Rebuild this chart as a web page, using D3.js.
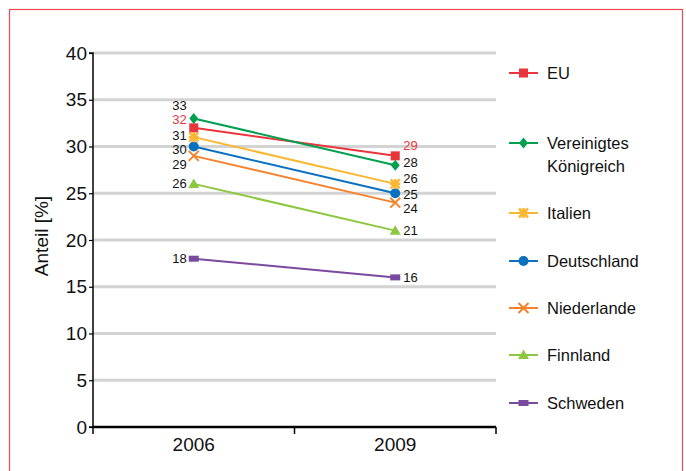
<!DOCTYPE html>
<html><head><meta charset="utf-8">
<script src="https://cdn.jsdelivr.net/npm/d3@7"></script>
<style>body{margin:0;background:#fff}svg{display:block}</style>
</head><body>
<svg id="c" width="686" height="471"></svg>
<script>
const years = ["2006", "2009"];
const seriesNames = ["EU", "Vereinigtes Königreich", "Italien", "Deutschland", "Niederlande", "Finnland", "Schweden"];
const legendLines = [["EU"], ["Vereinigtes", "Königreich"], ["Italien"], ["Deutschland"], ["Niederlande"], ["Finnland"], ["Schweden"]];
const v2006 = [32, 33, 31, 30, 29, 26, 18];
const v2009 = [29, 28, 26, 25, 24, 21, 16];
const colors = ["#e8363c", "#00a04f", "#fbb731", "#0a70bf", "#f5822a", "#8dc63f", "#7a4a9e"];
const symbols = ["square", "diamond", "asterisk", "circle", "cross", "triangle", "rect"];
const yTicks = [0, 5, 10, 15, 20, 25, 30, 35, 40];
// label vertical offsets (px) to avoid overlap
const off2006 = [-8, -13, -2, 3, 9, 0, 0];
const off2009 = [-10, -3, -5, 1, 6, 0, 0];

const svg = d3.select("#c");
svg.append("rect").attr("x", 9.5).attr("y", 9.5).attr("width", 673).attr("height", 480)
  .attr("fill", "none").attr("stroke", "#ee4a50").attr("stroke-width", 1.2);

const L = 93, R = 496, T = 53, B = 427;
const y = d3.scaleLinear().domain([0, 40]).range([B, T]);
const x = d3.scaleBand().domain(years).range([L, R]);
const cx = d => x(d) + x.bandwidth() / 2;

// grid
svg.append("g").selectAll("line").data(yTicks.filter(t => t > 0)).join("line")
  .attr("x1", L).attr("x2", R).attr("y1", d => y(d)).attr("y2", d => y(d))
  .attr("stroke", "#d3d3d3").attr("stroke-width", 3);

// y axis
const ya = svg.append("g").attr("transform", `translate(${L},0)`)
  .call(d3.axisLeft(y).tickValues(yTicks).tickSize(4).tickPadding(2));
ya.select(".domain").attr("stroke", "#000").attr("stroke-width", 1.5).attr("d", `M-4,${T}H0V${B}H-4`);
ya.selectAll(".tick line").attr("stroke", "#000").attr("stroke-width", 1.2);
ya.selectAll("text").attr("font-family", "Liberation Sans Narrow, Liberation Sans, Arial").attr("font-size", 19).attr("fill", "#111");

// x axis
const xa = svg.append("g").attr("transform", `translate(0,${B})`)
  .call(d3.axisBottom(x).tickSize(0).tickPadding(10));
xa.select(".domain").attr("stroke", "#000").attr("stroke-width", 2.5).attr("d", `M${L},0H${R}`);
xa.selectAll("text").attr("font-family", "Liberation Sans Narrow, Liberation Sans, Arial").attr("font-size", 19).attr("fill", "#111").attr("dy", "0.75em");
svg.append("g").selectAll("line").data([L, (L + R) / 2, R]).join("line")
  .attr("x1", d => d).attr("x2", d => d).attr("y1", B).attr("y2", B + 7)
  .attr("stroke", "#000").attr("stroke-width", 1.5);

// axis title
svg.append("text").attr("transform", `translate(48,${(T + B) / 2 - 4}) rotate(-90)`)
  .attr("text-anchor", "middle").attr("font-family", "Liberation Sans, Arial").attr("font-size", 19).attr("fill", "#111")
  .text("Anteil [%]");

function marker(g, type, color, px, py) {
  if (type === "square") g.append("rect").attr("x", px - 4.5).attr("y", py - 4.5).attr("width", 9).attr("height", 9).attr("fill", color);
  else if (type === "rect") g.append("rect").attr("x", px - 5).attr("y", py - 3).attr("width", 10).attr("height", 6).attr("fill", color);
  else if (type === "diamond") g.append("path").attr("d", `M${px},${py - 5.5}L${px + 4.5},${py}L${px},${py + 5.5}L${px - 4.5},${py}Z`).attr("fill", color);
  else if (type === "circle") g.append("circle").attr("cx", px).attr("cy", py).attr("r", 5).attr("fill", color);
  else if (type === "triangle") g.append("path").attr("d", `M${px},${py - 5.5}L${px + 5.5},${py + 4}L${px - 5.5},${py + 4}Z`).attr("fill", color);
  else if (type === "cross") g.append("path").attr("d", `M${px - 5},${py - 5}L${px + 5},${py + 5}M${px + 5},${py - 5}L${px - 5},${py + 5}`).attr("stroke", color).attr("stroke-width", 2);
  else if (type === "asterisk") g.append("path").attr("d", `M${px - 4.5},${py - 4.5}L${px + 4.5},${py + 4.5}M${px + 4.5},${py - 4.5}L${px - 4.5},${py + 4.5}M${px},${py - 5}V${py + 5}M${px - 5},${py}H${px + 5}`).attr("stroke", color).attr("stroke-width", 2.5);
}

// series
const order = [6, 5, 4, 3, 2, 0, 1];
order.forEach(i => {
  const g = svg.append("g");
  const pts = [[cx(years[0]), y(v2006[i])], [cx(years[1]), y(v2009[i])]];
  g.append("path").attr("d", d3.line()(pts)).attr("stroke", colors[i]).attr("stroke-width", 2).attr("fill", "none");
  pts.forEach(p => marker(g, symbols[i], colors[i], p[0], p[1]));
});

// data labels
seriesNames.forEach((n, i) => {
  const lc = i === 0 ? colors[0] : "#111";
  svg.append("text").attr("x", cx(years[0]) - 7).attr("y", y(v2006[i]) + off2006[i]).attr("dy", "0.35em")
    .attr("text-anchor", "end").attr("font-family", "Liberation Sans, Arial").attr("font-size", 13).attr("fill", lc).text(v2006[i]);
  svg.append("text").attr("x", cx(years[1]) + 8).attr("y", y(v2009[i]) + off2009[i]).attr("dy", "0.35em")
    .attr("text-anchor", "start").attr("font-family", "Liberation Sans, Arial").attr("font-size", 13).attr("fill", lc).text(v2009[i]);
});

// legend
const legY = [73, 143, 213, 261, 308, 355, 403];
seriesNames.forEach((n, i) => {
  const g = svg.append("g");
  g.append("line").attr("x1", 509).attr("x2", 538).attr("y1", legY[i]).attr("y2", legY[i]).attr("stroke", colors[i]).attr("stroke-width", 2);
  marker(g, symbols[i], colors[i], 523.5, legY[i]);
  const t = g.append("text").attr("x", 547).attr("y", legY[i]).attr("dy", "0.35em")
    .attr("font-family", "Liberation Sans, Arial").attr("font-size", 16.5).attr("fill", "#111");
  legendLines[i].forEach((ln, k) => t.append("tspan").attr("x", 547).attr("dy", k === 0 ? "0.35em" : 23).text(ln));
});
</script>
</body></html>
